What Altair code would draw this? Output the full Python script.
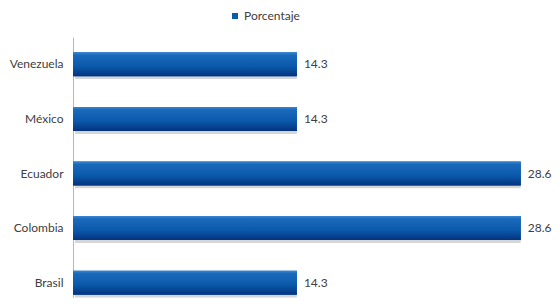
import altair as alt
import pandas as pd

paises = ["Venezuela", "México", "Ecuador", "Colombia", "Brasil"]
porcentaje = [14.3, 14.3, 28.6, 28.6, 14.3]
serie = ["Porcentaje"] * 5

df = pd.DataFrame({"pais": paises, "valor": porcentaje, "serie": serie})

FONT = "Lato"

y_enc = alt.Y("pais:N", sort=paises, title=None,
              scale=alt.Scale(range=[0, 273], paddingInner=0.56, paddingOuter=0.28),
              axis=alt.Axis(ticks=False, domainColor="#b8b8b8", labelColor="#404040",
                            labelFontSize=12, labelFont=FONT, labelPadding=10, grid=False))
x_enc = alt.X("valor:Q", title=None, scale=alt.Scale(domain=[0, 29.7], nice=False), axis=None)

base = alt.Chart(df)

shadow = base.mark_bar(color="#8a8a8a", opacity=0.35, yOffset=3, xOffset=2, cornerRadius=1).encode(
    x=x_enc, y=y_enc)

legend_bar = base.mark_bar().encode(
    x=x_enc, y=y_enc,
    color=alt.Color("serie:N", title=None,
                    scale=alt.Scale(range=["#0d5bab"]),
                    legend=alt.Legend(orient="none", legendX=156, legendY=-27, symbolType="square",
                                      symbolSize=36, labelFontSize=12, labelFont=FONT,
                                      labelColor="#404040", padding=0, symbolStrokeWidth=0,
                                      labelOffset=3)))

grad = alt.Gradient(
    gradient="linear", x1=0, x2=0, y1=0, y2=1,
    stops=[alt.GradientStop(offset=0, color="#3a86d2"),
           alt.GradientStop(offset=0.12, color="#1a6abb"),
           alt.GradientStop(offset=0.6, color="#0a58a9"),
           alt.GradientStop(offset=1, color="#05327e")])

bars = base.mark_bar(color=grad).encode(x=x_enc, y=y_enc)

labels = base.mark_text(align="left", dx=7, font=FONT, fontSize=12, color="#404040").encode(
    x=x_enc, y=y_enc, text=alt.Text("valor:Q", format=".1f"))

chart = alt.layer(shadow, legend_bar, bars, labels).properties(
    width=465, height=261,
    autosize=alt.AutoSizeParams(type="none"),
    padding={"left": 65, "top": 29, "right": 14, "bottom": 0},
    background="white",
).configure_view(stroke=None)

chart.save("out.html", embed_options={"renderer": "svg", "actions": False})
